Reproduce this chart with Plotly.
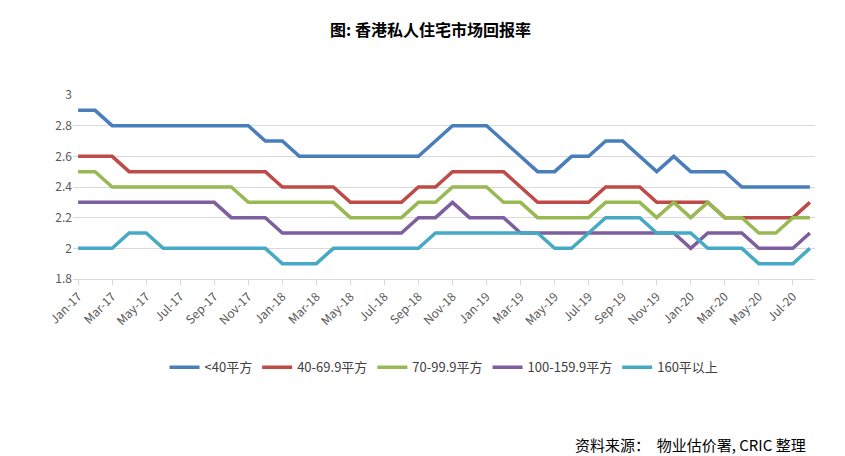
import plotly.graph_objects as go

months = []
mn = ["Jan","Feb","Mar","Apr","May","Jun","Jul","Aug","Sep","Oct","Nov","Dec"]
for y in (17, 18, 19, 20):
    for m in mn:
        months.append(f"{m}-{y}")
months = months[:44]

s_lt40 = [2.9,2.9]+[2.8]*9+[2.7]*2+[2.6]*8+[2.7]+[2.8]*3+[2.7,2.6,2.5,2.5,2.6,2.6,2.7,2.7,2.6,2.5,2.6,2.5,2.5,2.5]+[2.4]*5
s_40 = [2.6]*3+[2.5]*9+[2.4]*4+[2.3]*4+[2.4]*2+[2.5]*4+[2.4]+[2.3]*4+[2.4]*3+[2.3]*4+[2.2]*5+[2.3]
s_70 = [2.5]*2+[2.4]*8+[2.3]*6+[2.2]*4+[2.3]*2+[2.4]*3+[2.3]*2+[2.2]*4+[2.3]*3+[2.2,2.3,2.2,2.3,2.2,2.2,2.1,2.1,2.2,2.2]
s_100 = [2.3]*9+[2.2]*3+[2.1]*8+[2.2]*2+[2.3]+[2.2]*3+[2.1]*10+[2.0]+[2.1]*3+[2.0]*3+[2.1]
s_160 = [2.0]*3+[2.1]*2+[2.0]*7+[1.9]*3+[2.0]*6+[2.1]*7+[2.0]*2+[2.1]+[2.2]*3+[2.1]*3+[2.0]*3+[1.9]*3+[2.0]

names = ["<40平方","40-69.9平方","70-99.9平方","100-159.9平方","160平以上"]
colors = ["#4a7ebb","#be4b48","#98b954","#7d5fa0","#46aac5"]
series = [s_lt40, s_40, s_70, s_100, s_160]

fig = go.Figure()
for n, c, s in zip(names, colors, series):
    fig.add_trace(go.Scatter(x=months, y=s, name=n, mode="lines",
                             line=dict(color=c, width=3.5)))

fig.update_layout(
    width=845, height=456, paper_bgcolor="white", plot_bgcolor="white",
    margin=dict(l=65, r=38, t=87, b=185),
    font=dict(family="Noto Sans CJK SC, sans-serif", size=12, color="#595959"),
    title=dict(text="<b>图: 香港私人住宅市场回报率</b>", x=0.5, xanchor="center",
               y=0.95, yanchor="middle", font=dict(size=16, color="#000")),
    legend=dict(orientation="h", x=0.5, xanchor="center", y=-0.48, yanchor="middle",
                font=dict(size=13, color="#404040")),
    annotations=[dict(text="资料来源：  物业估价署, CRIC 整理", xref="paper", yref="paper",
                      x=0.99, y=-0.9, xanchor="right", yanchor="middle", showarrow=False,
                      font=dict(size=15, color="#000"))],
)
fig.update_xaxes(type="category", tickmode="array", tickvals=months[::2], ticktext=months[::2],
                 tickangle=-45, showline=True, linecolor="#d9d9d9", ticks="outside",
                 tickcolor="#d9d9d9", showgrid=False, range=[-0.3, 43.3])
fig.update_yaxes(range=[1.8, 3.0], dtick=0.2, tickformat="~g", gridcolor="#d9d9d9",
                 zeroline=False)
fig.write_html("out.html")
